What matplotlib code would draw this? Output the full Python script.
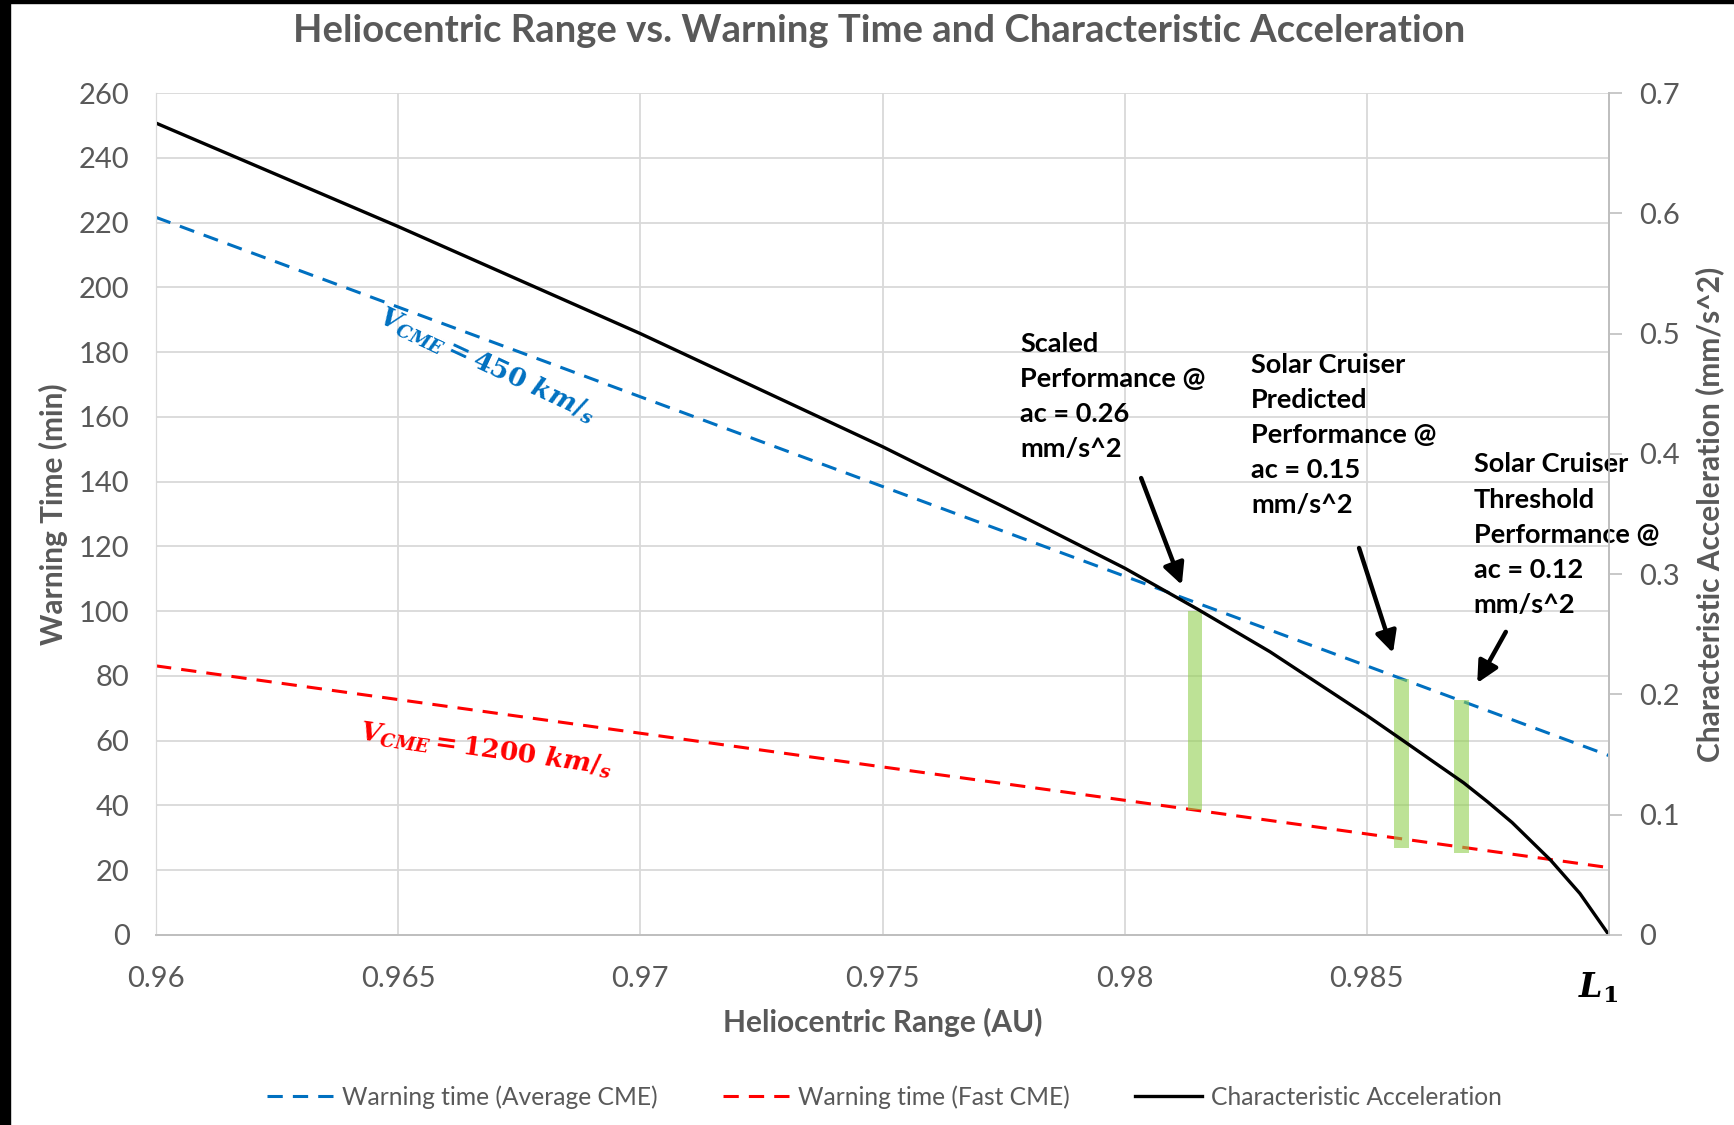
import matplotlib
matplotlib.use("Agg")
import matplotlib.pyplot as plt
from matplotlib.patches import Rectangle

plt.rcParams['font.family'] = ['Lato', 'DejaVu Sans']
plt.rcParams['mathtext.fontset'] = 'custom'
plt.rcParams['mathtext.it'] = 'DejaVu Serif:italic:bold'
plt.rcParams['mathtext.rm'] = 'DejaVu Serif:bold'
plt.rcParams['mathtext.bf'] = 'DejaVu Serif:bold'

# warning time lines (left axis, min)
range_au = [0.960, 0.965, 0.970, 0.975, 0.980, 0.985, 0.990]
warn_avg = [221.6, 193.9, 166.2, 138.5, 110.8, 83.1, 55.4]
warn_fast = [83.1, 72.7, 62.3, 51.9, 41.6, 31.2, 20.8]

# characteristic acceleration (right axis, mm/s^2)
acc_range = [0.960, 0.965, 0.970, 0.975, 0.9775, 0.980, 0.9815, 0.983, 0.985,
             0.9857, 0.9865, 0.987, 0.9875, 0.988, 0.9888, 0.9894, 0.990]
acc_vals = [0.675, 0.589, 0.500, 0.406, 0.356, 0.305, 0.271, 0.2355, 0.1825,
            0.163, 0.1405, 0.1265, 0.1105, 0.0935, 0.062, 0.0345, 0.0]

# green bars between the two warning-time lines
bar_x = [0.98145, 0.98572, 0.98696]
bar_top = [99.9, 79.1, 72.6]
bar_bottom = [38.6, 26.8, 25.2]

notes = [["Scaled", "Performance @", "ac = 0.26", "mm/s^2"],
         ["Solar Cruiser", "Predicted", "Performance @", "ac = 0.15", "mm/s^2"],
         ["Solar Cruiser", "Threshold", "Performance @", "ac = 0.12", "mm/s^2"]]
note_xy = [(0.97784, 185.6), (0.98261, 179.1), (0.98721, 148.3)]
arrow_tail = [(0.98034, 141.1), (0.98484, 119.5), (0.98787, 93.6)]
arrow_head = [(0.98118, 108.1), (0.98554, 87.1), (0.98728, 77.8)]

x_ticks = [0.96, 0.965, 0.97, 0.975, 0.98, 0.985, 0.99]
x_labels = ['0.96', '0.965', '0.97', '0.975', '0.98', '0.985', '']
y_ticks = list(range(0, 261, 20))
y2_ticks = [0, 0.1, 0.2, 0.3, 0.4, 0.5, 0.6, 0.7]
y2_labels = ['0', '0.1', '0.2', '0.3', '0.4', '0.5', '0.6', '0.7']

gray = '#595959'
grid_c = '#d9d9d9'
blue = '#0070C0'
red = '#FF0000'

fig = plt.figure(figsize=(17.34, 11.25), dpi=100)
ax = fig.add_axes([0.0900, 0.1689, 0.8379, 0.7484])
ax2 = ax.twinx()

l_avg, = ax.plot(range_au, warn_avg, color=blue, lw=2.2, linestyle=(0, (5, 3.3)),
                 label='Warning time (Average CME)')
l_fast, = ax.plot(range_au, warn_fast, color=red, lw=2.2, linestyle=(0, (5, 3.3)),
                  label='Warning time (Fast CME)')
heights = [t - b for t, b in zip(bar_top, bar_bottom)]
ax.bar(bar_x, heights, bottom=bar_bottom, width=0.0003, color='#92D050', alpha=0.6,
       zorder=3)
l_acc, = ax2.plot(acc_range, acc_vals, color='black', lw=2.4,
                  label='Characteristic Acceleration')

ax.set_xlim(0.96, 0.99)
ax.set_ylim(0, 260)
ax2.set_ylim(0, 0.7)

ax.set_xticks(x_ticks)
ax.set_xticklabels(x_labels)
ax.set_yticks(y_ticks)
ax2.set_yticks(y2_ticks)
ax2.set_yticklabels(y2_labels)

ax.grid(True, color=grid_c, lw=1.3)
ax.set_axisbelow(True)
ax.tick_params(axis='both', length=0, labelsize=21, labelcolor=gray)
ax.tick_params(axis='x', pad=22)
ax.tick_params(axis='y', pad=19)
ax2.tick_params(axis='y', length=9, width=1.2, color='#bfbfbf', labelsize=21,
                labelcolor=gray, pad=13)

for a in (ax, ax2):
    a.spines['top'].set_visible(False)
    a.spines['left'].set_color(grid_c)
    a.spines['bottom'].set_color('#bfbfbf')
    a.spines['right'].set_color('#bfbfbf')
    a.spines['bottom'].set_linewidth(1.3)
    a.spines['right'].set_linewidth(1.3)

ax.set_xlabel('Heliocentric Range (AU)', fontsize=21.5, fontweight='bold', color=gray,
              labelpad=12)
ax.set_ylabel('Warning Time (min)', fontsize=21.5, fontweight='bold', color=gray,
              labelpad=8)
ax2.set_ylabel('Characteristic Acceleration (mm/s^2)', fontsize=21.5, fontweight='bold',
               color=gray, labelpad=11)
fig.text(0.507, 0.972, 'Heliocentric Range vs. Warning Time and Characteristic Acceleration',
         ha='center', va='center', fontsize=27.5, fontweight='bold', color=gray)

# L1 marker at the end of the axis
ax.text(0.98977, -0.063, r'$L_1$', transform=ax.get_xaxis_transform(), ha='center',
        va='center', fontsize=24, color='black')

ax.text(0.96683, 176.0, r'$V_{CME}=\mathit{450}\ km/_{s}$', color=blue, fontsize=19,
        rotation=-25, rotation_mode='anchor', ha='center', va='center')
ax.text(0.96681, 57.1, r'$V_{CME}=\mathit{1200}\ km/_{s}$', color=red, fontsize=19,
        rotation=-8, rotation_mode='anchor', ha='center', va='center')

# annotation boxes: one text per line so they stay clear of the tick labels
for lines, xy, tail, head in zip(notes, note_xy, arrow_tail, arrow_head):
    for i, line in enumerate(lines):
        ax.annotate(line, xy=xy, xytext=(0, -12.7 - i * 25.3), textcoords='offset points',
                    fontsize=19.5, fontweight='bold', color='black',
                    ha='left', va='baseline', zorder=6)
    ax.annotate('', xy=head, xytext=tail,
                arrowprops=dict(arrowstyle='-|>', lw=3.2, color='black',
                                mutation_scale=32, shrinkA=0, shrinkB=0), zorder=6)

fig.legend(handles=[l_avg, l_fast, l_acc], loc='center', bbox_to_anchor=(0.51, 0.0249),
           ncol=3, frameon=False, fontsize=17.7, labelcolor=gray, handlelength=2.7,
           handletextpad=0.36, columnspacing=2.65)

# black frame strips from the screenshot
fig.patches.append(Rectangle((0, 0), 10 / 1734, 1, transform=fig.transFigure,
                             color='black', zorder=10))
fig.patches.append(Rectangle((0, 1 - 3 / 1125), 1, 3 / 1125, transform=fig.transFigure,
                             color='black', zorder=10))

fig.savefig('out.png', dpi=100)
